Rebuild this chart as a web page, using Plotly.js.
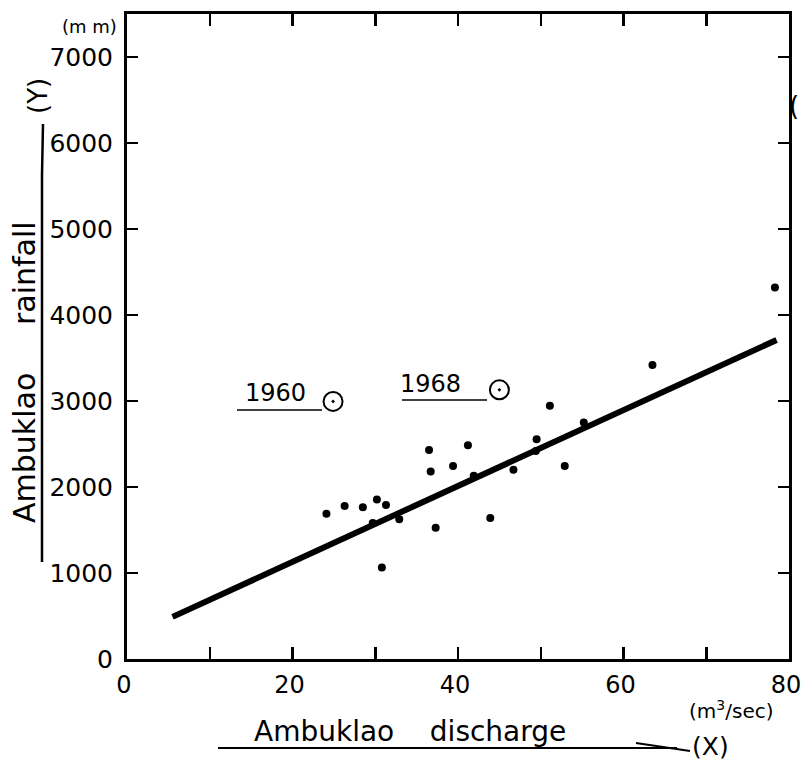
<!DOCTYPE html>
<html>
<head>
<meta charset="utf-8">
<script src="https://cdn.plot.ly/plotly-3.0.1.min.js"></script>
<style>body{margin:0;background:#fff}#chart{width:801px;height:764px}</style>
</head>
<body>
<div id="chart"></div>
<script>
// Observed years: discharge (m3/sec) vs rainfall (mm)
const dischargeX = [24.1, 26.3, 28.5, 30.2, 31.3, 29.7, 32.9, 30.8, 36.5, 41.2, 36.7, 39.4, 41.9, 46.7, 43.9, 37.3, 51.1, 55.2, 49.5, 49.4, 52.9, 63.5, 78.3];
const rainfallY  = [1690, 1780, 1765, 1855, 1790, 1580, 1625, 1065, 2430, 2485, 2180, 2245, 2130, 2200, 1640, 1525, 2945, 2750, 2555, 2420, 2245, 3420, 4320];
// Outlier years (open circles)
const outlierYears = ['1960', '1968'];
const outlierX = [24.9, 45.0];
const outlierY = [2995, 3130];
// Regression line end points
const fitX = [5.5, 78.5];
const fitY = [490, 3710];
// Axis ticks
const xTickVals = [0, 20, 40, 60, 80];
const xTickText = ['0', '20', '40', '60', '80'];
const xMinorVals = [10, 30, 50, 70];
const yTickVals = [0, 1000, 2000, 3000, 4000, 5000, 6000, 7000];
const yTickText = ['0', '1000', '2000', '3000', '4000', '5000', '6000', '7000'];

const FONT = 'DejaVu Sans, Liberation Sans, sans-serif';
// plot area in pixels
const L = 127, R = 789, T = 14, B = 659;
const px = v => (v - L) / (R - L);
const py = v => (B - v) / (B - T);

const traces = [
  {x: fitX, y: fitY, mode: 'lines', line: {color: '#000', width: 6}, hoverinfo: 'skip'},
  {x: dischargeX, y: rainfallY, mode: 'markers', marker: {color: '#000', size: 8}},
  {x: outlierX, y: outlierY, mode: 'markers', marker: {symbol: 'circle-open-dot', color: '#000', size: 19, line: {width: 2, color: '#000'}}}
];

const ann = [];
function txt(text, x, y, size, extra) {
  ann.push(Object.assign({text: text, xref: 'paper', yref: 'paper', x: px(x), y: py(y), showarrow: false,
    xanchor: 'center', yanchor: 'middle', font: {family: FONT, size: size, color: '#000'}}, extra || {}));
}
// outlier labels
ann.push({text: outlierYears[0], x: outlierX[0], y: outlierY[0], xref: 'x', yref: 'y', xanchor: 'right', yanchor: 'middle', xshift: -25, yshift: 8, showarrow: false, font: {family: FONT, size: 24, color: '#000'}});
ann.push({text: outlierYears[1], x: outlierX[1], y: outlierY[1], xref: 'x', yref: 'y', xanchor: 'right', yanchor: 'middle', xshift: -36, yshift: 6, showarrow: false, font: {family: FONT, size: 24, color: '#000'}});
txt('(m m)', 89, 26, 18);
txt('(m<sup>3</sup>/sec)', 731, 710, 20);
txt('Ambuklao&nbsp;&nbsp;&nbsp;&nbsp;discharge', 410, 731, 28);
txt('(X)', 710, 747, 25);
txt('Ambuklao&nbsp;&nbsp;&nbsp;&nbsp;&nbsp;rainfall', 24, 372, 30, {textangle: -90});
txt('(Y)', 38, 96, 26, {textangle: -90});
txt('(', 801, 106, 26, {xanchor: 'right'});

const shapes = [
  // underlines of outlier labels
  {type: 'line', xref: 'paper', yref: 'paper', x0: px(237), x1: px(322), y0: py(410), y1: py(410), line: {color: '#000', width: 1.5}},
  {type: 'line', xref: 'paper', yref: 'paper', x0: px(402), x1: px(487), y0: py(400), y1: py(400), line: {color: '#000', width: 1.5}},
  // x title underline + arrow
  {type: 'line', xref: 'paper', yref: 'paper', x0: px(218), x1: px(677), y0: py(748), y1: py(748), line: {color: '#000', width: 2}},
  {type: 'line', xref: 'paper', yref: 'paper', x0: px(636), x1: px(690), y0: py(743), y1: py(751), line: {color: '#000', width: 2}},
  // y title line + arrow
  {type: 'line', xref: 'paper', yref: 'paper', x0: px(42), x1: px(42), y0: py(562), y1: py(175), line: {color: '#000', width: 2.5}},
  {type: 'line', xref: 'paper', yref: 'paper', x0: px(42), x1: px(43), y0: py(175), y1: py(124), line: {color: '#000', width: 2.5}}
];

const axisCommon = {
  ticks: 'inside', tickcolor: '#000', tickwidth: 2.5, showline: true, linecolor: '#000', linewidth: 3,
  mirror: 'ticks', showgrid: false, zeroline: false, tickmode: 'array', ticklabeloverflow: 'allow'
};

const layout = {
  width: 801, height: 764,
  margin: {l: L, r: 801 - R, t: T, b: 764 - B},
  paper_bgcolor: '#fff', plot_bgcolor: '#fff', showlegend: false,
  xaxis: Object.assign({}, axisCommon, {range: [0, 80], tickvals: xTickVals, ticktext: xTickText, ticklen: 12, ticklabelstandoff: 2,
    ticklabelshift: -3, tickfont: {family: FONT, size: 24, color: '#000'},
    minor: {tickmode: 'array', tickvals: xMinorVals, ticks: 'inside', ticklen: 12, tickwidth: 2.5, tickcolor: '#000', showgrid: false}}),
  yaxis: Object.assign({}, axisCommon, {range: [0, 7500], tickvals: yTickVals, ticktext: yTickText, ticklen: 11, ticklabelstandoff: 6,
    tickfont: {family: FONT, size: 25, color: '#000'}}),
  annotations: ann, shapes: shapes
};

Plotly.newPlot('chart', traces, layout, {staticPlot: true, displayModeBar: false});
</script>
</body>
</html>
